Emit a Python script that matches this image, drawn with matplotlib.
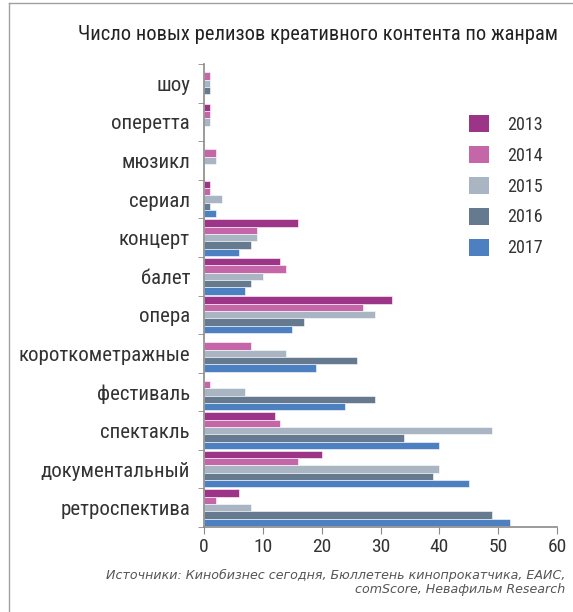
import matplotlib
matplotlib.use('Agg')
import matplotlib.pyplot as plt
from matplotlib import font_manager
from matplotlib.patches import Patch
from matplotlib.lines import Line2D
import numpy as np

genres = ['шоу', 'оперетта', 'мюзикл', 'сериал', 'концерт', 'балет', 'опера',
          'короткометражные', 'фестиваль', 'спектакль', 'документальный',
          'ретроспектива']
years = ['2013', '2014', '2015', '2016', '2017']
v2013 = [0, 1, 0, 1, 16, 13, 32, 0, 0, 12, 20, 6]
v2014 = [1, 1, 2, 1, 9, 14, 27, 8, 1, 13, 16, 2]
v2015 = [1, 1, 2, 3, 9, 10, 29, 14, 7, 49, 40, 8]
v2016 = [1, 0, 0, 1, 8, 8, 17, 26, 29, 34, 39, 49]
v2017 = [0, 0, 0, 2, 6, 7, 15, 19, 24, 40, 45, 52]
series = [v2013, v2014, v2015, v2016, v2017]
colors = ['#9c3587', '#c566a8', '#a9b5c3', '#65798f', '#4c80c1']
source = ('Источники: Кинобизнес сегодня, Бюллетень кинопрокатчика, ЕАИС,\n'
          'comScore, Невафильм Research')

# pick a narrow font if one is installed
names = {f.name for f in font_manager.fontManager.ttflist}
narrow = None
for cand in ['Roboto Condensed', 'Liberation Sans Narrow', 'Open Sans Condensed']:
    if cand in names:
        narrow = cand
        break
if narrow:
    plt.rcParams['font.family'] = [narrow, 'DejaVu Sans']
else:
    plt.rcParams['font.family'] = ['DejaVu Sans']
    plt.rcParams['font.stretch'] = 'condensed'

text_col = '#333333'
axis_col = '#8a8a8a'

fig = plt.figure(figsize=(5.73, 6.12), dpi=100)
ax = fig.add_axes([204 / 573, 1 - 527 / 612, 353 / 573, 463 / 612])

y = np.arange(len(genres))
h = 0.19
for k, vals in enumerate(series):
    ax.barh(y + (k - 2) * h, vals, height=h, color=colors[k],
            edgecolor='white', linewidth=0.4)

ax.set_xlim(0, 60)
ax.set_ylim(len(genres) - 0.5, -0.5)
ax.set_xticks(range(0, 61, 10))
ax.set_yticks(y)
ax.set_yticklabels(genres)
ax.set_yticks(np.arange(-0.5, len(genres)), minor=True)
ax.tick_params(axis='y', which='major', length=0, pad=10, labelsize=15,
               labelcolor=text_col)
ax.tick_params(axis='y', which='minor', length=4, color=axis_col, direction='out')
ax.tick_params(axis='x', length=5, color=axis_col, labelsize=14,
               labelcolor=text_col, pad=3)
for s in ['top', 'right']:
    ax.spines[s].set_visible(False)
for s in ['left', 'bottom']:
    ax.spines[s].set_color(axis_col)
    ax.spines[s].set_linewidth(1.2)

handles = [Patch(facecolor=c, edgecolor='none', label=l) for c, l in zip(colors, years)]
leg = ax.legend(handles=handles, loc='upper left', bbox_to_anchor=(0.75, 0.89),
                frameon=False, fontsize=13, handlelength=1.1, handleheight=1.1,
                handletextpad=1.0, labelspacing=0.67, borderpad=0, borderaxespad=0)
for t in leg.get_texts():
    t.set_color(text_col)

fig.text(318 / 573, 1 - 34 / 612, 'Число новых релизов креативного контента по жанрам',
         ha='center', va='center', fontsize=14.8, color='#222222')
fig.text(565 / 573, 1 - 569 / 612, source, ha='right', va='top', fontsize=9.1,
         family='DejaVu Sans', style='italic', color='#555555', linespacing=1.05)

# thin frame on top and left edges
fig.add_artist(Line2D([9 / 573, 1], [1 - 3 / 612, 1 - 3 / 612], color='#a0a0a0', lw=1))
fig.add_artist(Line2D([9 / 573, 9 / 573], [0, 1 - 3 / 612], color='#a0a0a0', lw=1))

fig.savefig('out.png', dpi=100)
